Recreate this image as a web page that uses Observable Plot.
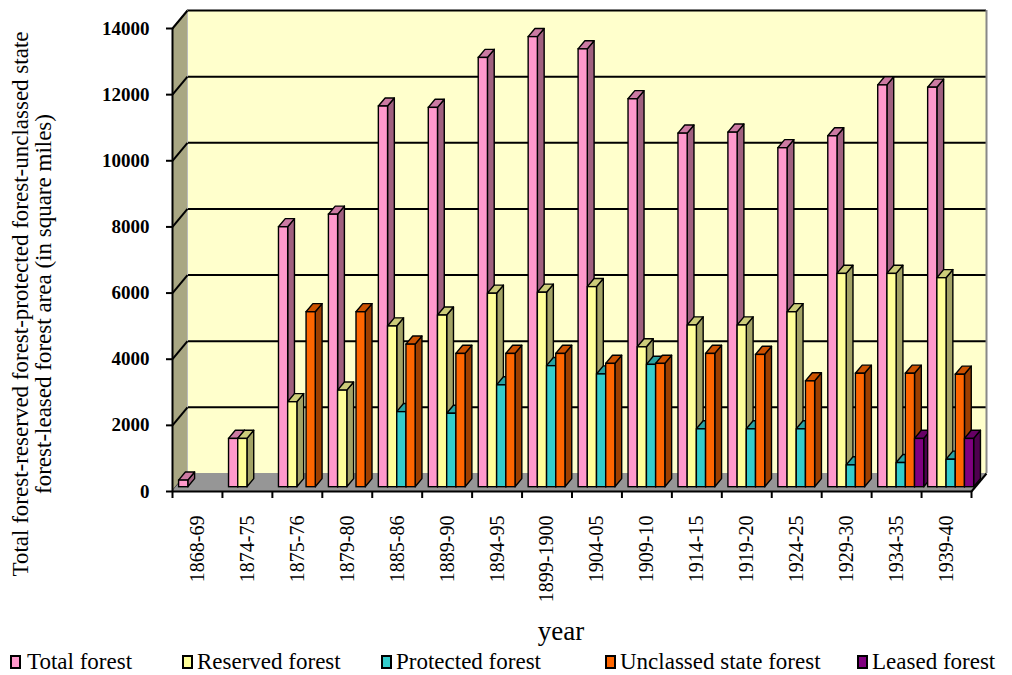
<!DOCTYPE html>
<html><head><meta charset="utf-8">
<script src="https://cdn.jsdelivr.net/npm/d3@7"></script>
<script src="https://cdn.jsdelivr.net/npm/@observablehq/plot@0.6"></script>
<style>
body{margin:0;background:#fff;}
#legend{position:relative;width:1012px;height:27px;font-family:"Liberation Serif",serif;font-size:23px;color:#000;}
.lt{position:absolute;top:0;line-height:27px;white-space:nowrap}
.sw{position:absolute;top:7px;width:7px;height:10px;border:2px solid #000}
</style></head><body>
<div id="chart"></div><div id="legend"></div>
<script>
// ---- data ----
const periods = ["1868-69","1874-75","1875-76","1879-80","1885-86","1889-90","1894-95","1899-1900","1904-05","1909-10","1914-15","1919-20","1924-25","1929-30","1934-35","1939-40"];
const seriesNames = ["Total forest","Reserved forest","Protected forest","Unclassed state forest","Leased forest"];
const totalForest     = [200,1460,7860,8240,11510,11470,12980,13610,13240,11730,10690,10720,10250,10610,12150,12080];
const reservedForest  = [null,1460,2570,2920,4860,5190,5850,5880,6050,4230,4890,4890,5290,6450,6450,6320];
const protectedForest = [null,null,null,null,2270,2220,3080,3660,3410,3700,1750,1750,1750,660,730,830];
const unclassedForest = [null,null,5290,5290,4310,4030,4030,4030,3730,3730,4030,4000,3200,3430,3430,3400];
const leasedForest    = [null,null,null,null,null,null,null,null,null,null,null,null,null,null,1460,1460];
const yTicks = [0,2000,4000,6000,8000,10000,12000,14000];
const yTitle = "Total forest-reserved forest-protected forest-unclassed state\nforest-leased forest area (in square miles)";
const xTitle = "year";

// ---- styling ----
const frontColors = ["#FF99CC","#FFFF99","#33CCCC","#FF6600","#800080"];
const topColors   = ["#CC7AA3","#CCCC7A","#29A3A3","#CC5200","#660066"];
const sideColors  = ["#A0607F","#A3A366","#1F7E7E","#9E3F00","#4F004F"];
const W = 1012, H = 648, ML = 172, MR = 41, MT = 28, MB = 157;
const seriesValues = [totalForest, reservedForest, protectedForest, unclassedForest, leasedForest];
const nCat = periods.length, yMax = yTicks[yTicks.length - 1];
const kx = (W - ML - MR) / nCat, ky = (H - MT - MB) / yMax;   // px per unit
const wallDx = 15, wallDy = -18;          // depth of the whole floor (px)
const barOffDx = 3.6, barOffDy = -4.3;    // depth of bar front face (px)
const barDx = 6.8, barDy = -8.1;          // depth of each bar (px)
const wDxU = wallDx / kx, wDyU = -wallDy / ky;
const bDxU = barDx / kx, bDyU = -barDy / ky;
const padL = 0.06, slot = 0.1842;

// bars
const bars = [];
periods.forEach((p, i) => seriesValues.forEach((vals, s) => {
  const v = vals[i];
  if (v == null) return;
  const x0 = i + padL + s * slot;
  bars.push({id: bars.length, s, x0, x1: x0 + slot, v, front: frontColors[s], top: topColors[s], side: sideColors[s]});
}));
const sides = bars.flatMap(b => [
  {id: b.id, x: b.x1, y1: 0, y2: b.v, fill: b.side},
  {id: b.id, x: b.x1 + bDxU, y1: bDyU, y2: b.v + bDyU, fill: b.side}
]);
const tops = bars.flatMap(b => [
  {id: b.id, y: b.v, xa: b.x0, xb: b.x1, fill: b.top},
  {id: b.id, y: b.v + bDyU, xa: b.x0 + bDxU, xb: b.x1 + bDxU, fill: b.top}
]);
const sideWall = [{x: 0, y1: 0, y2: yMax}, {x: wDxU, y1: wDyU, y2: yMax + wDyU}];
const floor = [{y: 0, xa: 0, xb: nCat}, {y: wDyU, xa: wDxU, xb: nCat + wDxU}];

const chart = Plot.plot({
  width: W, height: H, marginLeft: ML, marginRight: MR, marginTop: MT, marginBottom: MB,
  x: {domain: [0, nCat]},
  y: {domain: [0, yMax]},
  color: {type: "identity"},
  style: {fontFamily: "'Liberation Serif', serif", background: "white", overflow: "visible", color: "#000"},
  marks: [
    // back wall
    Plot.rect([{x1: 0, x2: nCat, y1: 0, y2: yMax}], {x1: "x1", x2: "x2", y1: "y1", y2: "y2", fill: "#FFFFCC", dx: wallDx, dy: wallDy}),
    Plot.ruleY(yTicks.slice(1), {x1: 0, x2: nCat, stroke: "#000", strokeWidth: 2, dx: wallDx, dy: wallDy}),
    Plot.ruleX([nCat], {y1: 0, y2: yMax, stroke: "#888", strokeWidth: 2, dx: wallDx, dy: wallDy}),
    // side wall
    Plot.area(sideWall, {x1: "x", y1: "y1", y2: "y2", fill: "#A9A783"}),
    Plot.ruleX([wDxU], {y1: wDyU, y2: yMax + wDyU, stroke: "#bbb", strokeWidth: 1}),
    Plot.link(yTicks, {x1: 0, y1: d => d, x2: wDxU, y2: d => d + wDyU, stroke: "#000", strokeWidth: 2}),
    // floor
    Plot.area(floor, {y1: "y", x1: "xa", x2: "xb", fill: "#969696"}),
    Plot.ruleY([0], {x1: 0, x2: nCat, stroke: "#000", strokeWidth: 2}),
    Plot.link([0], {x1: nCat, y1: 0, x2: nCat + wDxU, y2: wDyU, stroke: "#000", strokeWidth: 2}),
    Plot.ruleX([0], {y1: 0, y2: yMax, stroke: "#000", strokeWidth: 2}),
    // bars
    Plot.area(sides, {x1: "x", y1: "y1", y2: "y2", z: "id", fill: "fill", stroke: "#000", strokeWidth: 1.4, strokeLinejoin: "round", dx: barOffDx, dy: barOffDy}),
    Plot.area(tops, {y1: "y", x1: "xa", x2: "xb", z: "id", fill: "fill", stroke: "#000", strokeWidth: 1.4, strokeLinejoin: "round", dx: barOffDx, dy: barOffDy}),
    Plot.rect(bars, {x1: "x0", x2: "x1", y1: 0, y2: "v", fill: "front", stroke: "#000", strokeWidth: 1.4, dx: barOffDx, dy: barOffDy}),
    // axes
    Plot.axisY(yTicks, {tickSize: 6, tickPadding: 17, tickFormat: d => String(d), fontSize: 19, fontWeight: "bold", strokeWidth: 2, label: null}),
    Plot.axisX(d3.range(nCat + 1), {tickSize: 7, tickFormat: () => "", strokeWidth: 2, label: null}),
    Plot.axisX(d3.range(nCat).map(i => i + 0.5), {tickSize: 0, tickPadding: 24, tickRotate: -90, tickFormat: d => periods[Math.floor(d)], fontSize: 20, label: null}),
    // titles
    Plot.text([yTitle], {text: d => d, frameAnchor: "left", textAnchor: "middle", lineAnchor: "middle", rotate: -90, dx: -140, dy: 44, fontSize: 23, lineHeight: 1.0}),
    Plot.text([xTitle], {text: d => d, frameAnchor: "bottom", textAnchor: "middle", lineAnchor: "middle", dx: -11, dy: 140, fontSize: 27})
  ]
});
document.getElementById("chart").appendChild(chart);

// legend
const legendPos = [[10, 27], [182, 197], [381, 396], [605, 620], [857, 872]];
const legend = d3.select("#legend");
seriesNames.forEach((name, s) => {
  legend.append("div").attr("class", "sw").style("left", legendPos[s][0] + "px").style("background", frontColors[s]);
  legend.append("div").attr("class", "lt").style("left", legendPos[s][1] + "px").text(name);
});
</script>
</body></html>
